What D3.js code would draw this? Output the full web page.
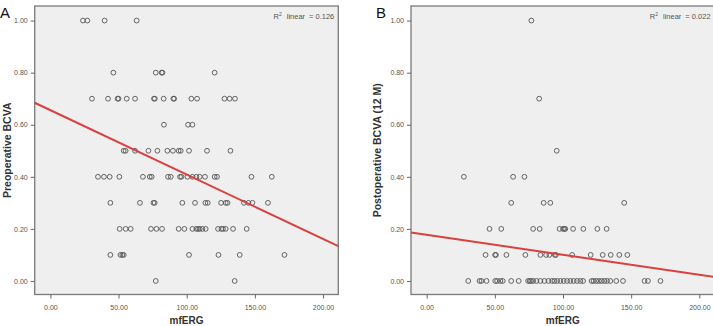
<!DOCTYPE html>
<html>
<head>
<meta charset="utf-8">
<script src="https://cdn.jsdelivr.net/npm/d3@7"></script>
<style>
  body { margin: 0; background: #fff; }
  svg { display: block; font-family: "Liberation Sans", Arial, sans-serif; }
</style>
</head>
<body>
<svg id="chart" width="713" height="326"></svg>
<script>
// rows of [BCVA value, mfERG values]
const preRows = [
    [1.0, [23.9, 27.1, 39.8, 63.3]],
    [0.8, [46.2, 77.3, 81.6, 82.2, 120.5]],
    [0.7, [30.5, 42.3, 49.3, 50.0, 56.0, 62.1, 76.0, 76.6, 83.1, 90.2, 90.8, 103.4, 107.6, 127.7, 131.5, 135.4]],
    [0.6, [83.3, 101.0, 104.2]],
    [0.5, [53.8, 55.2, 62.1, 71.9, 78.5, 85.8, 89.9, 94.1, 95.6, 101.7, 114.9, 132.1]],
    [0.4, [34.9, 39.3, 43.5, 50.6, 67.9, 72.9, 74.3, 86.3, 88.3, 95.1, 96.1, 100.5, 104.2, 107.1, 109.5, 113.4, 120.5, 122.2, 147.5, 162.4]],
    [0.3, [44.0, 65.7, 75.6, 76.5, 96.8, 106.1, 113.7, 115.4, 125.2, 128.6, 129.9, 142.0, 145.3, 148.2, 159.6]],
    [0.2, [50.8, 55.2, 58.9, 73.8, 77.8, 81.9, 94.1, 98.3, 104.2, 107.1, 108.3, 109.5, 111.5, 113.9, 123.0, 125.5, 126.6, 128.6, 134.0, 144.0]],
    [0.1, [44.0, 51.4, 52.8, 53.8, 101.7, 123.3, 138.9, 171.7]],
    [0.0, [77.3, 135.2]]
];

const postRows = [
    [1.0, [76.8]],
    [0.7, [82.5]],
    [0.5, [95.4]],
    [0.4, [27.3, 63.4, 71.7]],
    [0.3, [62.0, 85.8, 90.7, 144.9]],
    [0.2, [46.1, 54.7, 78.1, 82.9, 97.5, 100.0, 101.0, 101.7, 107.4, 114.9, 125.2, 132.0]],
    [0.1, [43.2, 50.2, 50.8, 58.5, 72.4, 83.4, 87.6, 90.0, 94.0, 94.8, 106.7, 120.3, 129.1, 135.0, 141.3, 147.2]],
    [0.0, [30.5, 38.8, 40.2, 43.9, 50.3, 51.7, 54.1, 55.8, 62.0, 67.5, 74.4, 75.6, 76.6, 78.1, 80.5, 83.4, 86.4, 89.3, 92.0, 93.7,
           95.7, 98.1, 100.5, 103.0, 105.4, 107.8, 110.3, 112.7, 114.7, 121.0, 122.4, 124.4, 126.4, 128.3, 130.3, 132.3, 134.7, 139.1,
           144.0, 159.8, 162.3, 171.5]]
];

// fit lines: [intercept, slope]
const preFit = [0.656, -0.002472];
const postFit = [0.177, -0.000765];

const xTicks = [0, 50, 100, 150, 200];
const yTicks = [0, 0.2, 0.4, 0.6, 0.8, 1.0];

const svg = d3.select("#chart");

function drawPanel(opt) {
    const g = svg.append("g").attr("transform", `translate(${opt.left},${opt.top})`);
    const w = opt.width, h = opt.height;

    const x = d3.scaleLinear().domain([-11.5, 211.2]).range([0, w]);
    const y = d3.scaleLinear().domain([-0.052, 1.056]).range([h, 0]);

    g.append("rect")
        .attr("width", w).attr("height", h)
        .attr("fill", "#efefef")
        .attr("stroke", "#7a7a7a")
        .attr("stroke-width", 1.3);

    const xAxis = g.append("g")
        .attr("transform", `translate(0,${h})`)
        .call(d3.axisBottom(x).tickValues(xTicks).tickSize(4).tickFormat(d3.format(".2f")));
    const yAxis = g.append("g")
        .call(d3.axisLeft(y).tickValues(yTicks).tickSize(4).tickFormat(d3.format(".2f")));

    [xAxis, yAxis].forEach(a => {
        a.select(".domain").remove();
        a.selectAll("line").attr("stroke", "#666");
        a.selectAll("text").attr("fill", "#555").attr("font-size", "7px")
            .attr("font-family", "'Liberation Sans', Arial, sans-serif");
    });
    xAxis.selectAll("text").attr("dy", "1.2em");

    // points
    const pts = [];
    opt.rows.forEach(([yv, xs]) => xs.forEach(xv => pts.push([xv, yv])));
    g.selectAll("circle.pt")
        .data(pts)
        .enter()
        .append("circle")
        .attr("class", "pt")
        .attr("cx", d => x(d[0]))
        .attr("cy", d => y(d[1]))
        .attr("r", 2.4)
        .attr("fill", "none")
        .attr("stroke", "#555")
        .attr("stroke-width", 0.9);

    // fit line
    const [b0, b1] = opt.fit;
    const xd = x.domain();
    g.append("line")
        .attr("x1", x(xd[0])).attr("y1", y(b0 + b1 * xd[0]))
        .attr("x2", x(xd[1])).attr("y2", y(b0 + b1 * xd[1]))
        .attr("stroke", "#d9403f")
        .attr("stroke-width", 2);

    // R2 label
    const r2 = g.append("text")
        .attr("x", w - 4).attr("y", 12.5)
        .attr("text-anchor", "end")
        .attr("font-size", "7.5px")
        .attr("fill", "#555");
    r2.append("tspan").text("R");
    r2.append("tspan").attr("font-size", "5px").attr("dy", -3).text("2");
    r2.append("tspan").attr("dy", 3).attr("dx", 5).text("linear");
    r2.append("tspan").attr("dx", 4).text("= " + opt.r2);

    // axis titles
    g.append("text")
        .attr("x", w / 2).attr("y", h + 29)
        .attr("text-anchor", "middle")
        .attr("font-size", "10px")
        .attr("font-weight", "bold")
        .attr("fill", "#333")
        .text("mfERG");

    g.append("text")
        .attr("transform", `translate(${opt.titleX},${h / 2}) rotate(-90)`)
        .attr("text-anchor", "middle")
        .attr("font-size", "10.5px")
        .attr("font-weight", "bold")
        .attr("fill", "#333")
        .text(opt.yTitle);

    svg.append("text")
        .attr("x", opt.letterX).attr("y", 18)
        .attr("font-size", "15px")
        .attr("fill", "#111")
        .text(opt.letter);
}

drawPanel({
    left: 34.7, top: 6, width: 303.6, height: 288.5,
    rows: preRows, fit: preFit, r2: "0.126",
    yTitle: "Preoperative BCVA", titleX: -24,
    letter: "A", letterX: 0
});

drawPanel({
    left: 411, top: 6, width: 303.6, height: 288.5,
    rows: postRows, fit: postFit, r2: "0.022",
    yTitle: "Postoperative BCVA (12 M)", titleX: -30,
    letter: "B", letterX: 376
});
</script>
</body>
</html>
